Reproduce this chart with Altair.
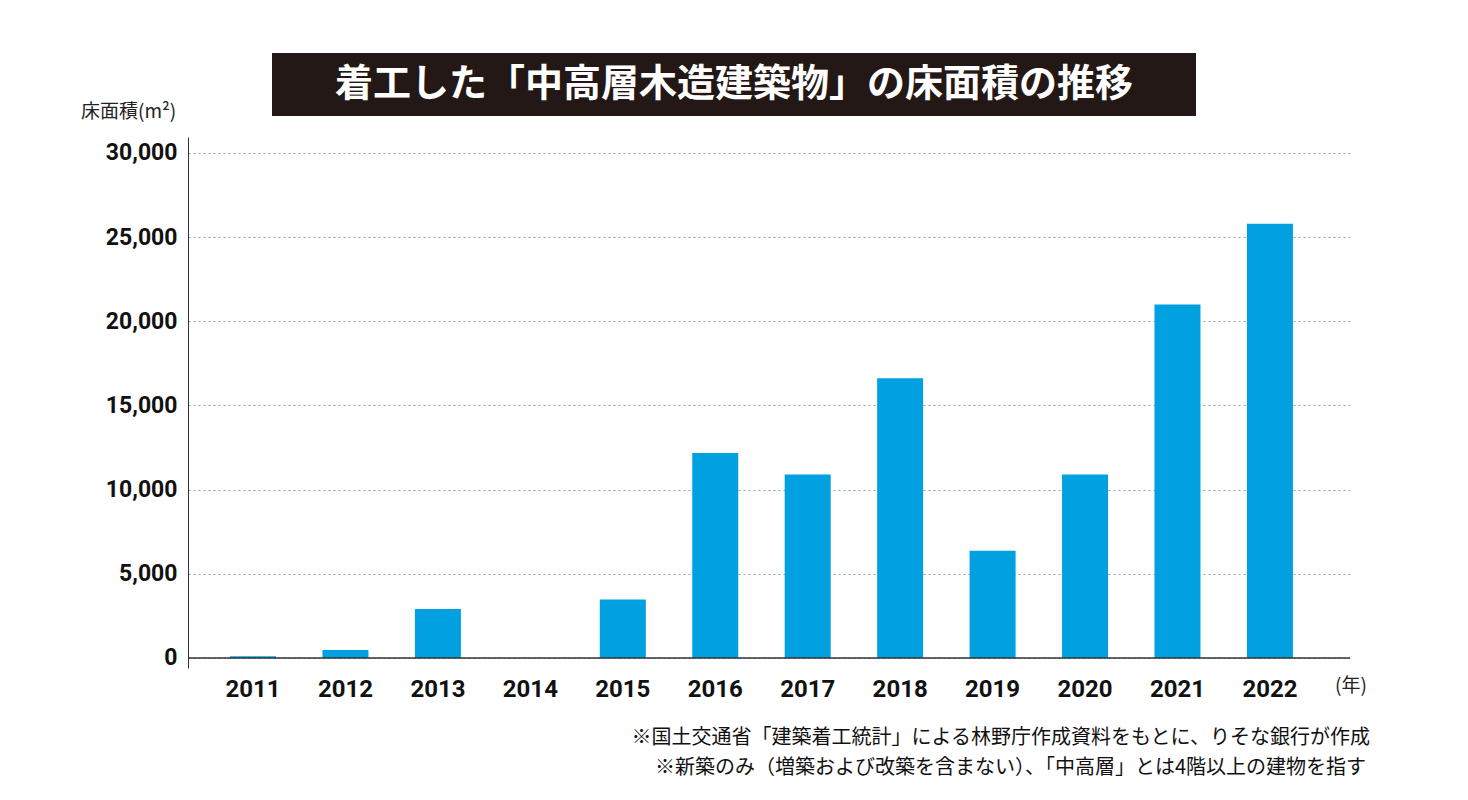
import altair as alt
import pandas as pd

years = ["2011", "2012", "2013", "2014", "2015", "2016", "2017", "2018", "2019", "2020", "2021", "2022"]
areas = [100, 470, 2900, 0, 3470, 12180, 10900, 16620, 6360, 10900, 21000, 25800]
y_ticks = [0, 5000, 10000, 15000, 20000, 25000, 30000]

TITLE = "着工した「中高層木造建築物」の床面積の推移"
Y_TITLE = "床面積(m²)"
X_UNIT = "(年)"
NOTE1 = "※国土交通省「建築着工統計」による林野庁作成資料をもとに、りそな銀行が作成"
NOTE2 = "※新築のみ（増築および改築を含まない）、「中高層」とは4階以上の建物を指す"

JP = "Noto Sans CJK JP"
NUM = "Roboto"
W, H = 1162, 531

df = pd.DataFrame({"year": years, "area": areas})

bars = alt.Chart(df).mark_bar(color="#00A0E1").encode(
    x=alt.X("year:O", title=None, sort=None,
            scale=alt.Scale(paddingInner=0.5025, paddingOuter=0.536, align=0.424),
            axis=alt.Axis(labelAngle=0, domain=False, ticks=False, labelPadding=9,
                          labelFont=NUM, labelFontWeight="bold", labelFontSize=24,
                          labelColor="#111111")),
    y=alt.Y("area:Q", title=None,
            scale=alt.Scale(domain=[-600, 30950], nice=False, zero=False),
            axis=alt.Axis(values=y_ticks, format=",d", ticks=False, labelPadding=11,
                          labelFont=NUM, labelFontWeight="bold", labelFontSize=23,
                          labelColor="#111111", domainColor="#333333", domainWidth=1,
                          grid=True, gridColor="#7fa6c4", gridDash=[2, 3], gridWidth=1)),
)

one = alt.Data(values=[{}])

baseline = alt.Chart(one).mark_rule(color="#333333", strokeWidth=1.5).encode(
    x=alt.value(0), x2=alt.value(W), y=alt.datum(0, type="quantitative")
)

title_box = alt.Chart(one).mark_rect(color="#231815").encode(
    x=alt.value(84), x2=alt.value(1008), y=alt.value(-84), y2=alt.value(-21)
)
title_text = alt.Chart(one).mark_text(
    text=TITLE, font=JP, fontWeight="bold", fontSize=38, color="white",
    align="center", baseline="middle"
).encode(x=alt.value(546), y=alt.value(-52))

y_title = alt.Chart(one).mark_text(
    text=Y_TITLE, font=JP, fontSize=19, color="#222222", align="left", baseline="middle"
).encode(x=alt.value(-107), y=alt.value(-25))

x_unit = alt.Chart(one).mark_text(
    text=X_UNIT, font=JP, fontSize=19, color="#222222", align="center", baseline="middle"
).encode(x=alt.value(1163), y=alt.value(549))

note1 = alt.Chart(one).mark_text(
    text=NOTE1, font=JP, fontSize=20, color="#111111", align="right", baseline="middle"
).encode(x=alt.value(1182), y=alt.value(601))
note2 = alt.Chart(one).mark_text(
    text=NOTE2, font=JP, fontSize=20, color="#111111", align="right", baseline="middle"
).encode(x=alt.value(1178), y=alt.value(631))

chart = alt.layer(
    bars, baseline, title_box, title_text, y_title, x_unit, note1, note2
).properties(
    width=W, height=H,
    autosize=alt.AutoSizeParams(type="none"),
    padding={"left": 180, "top": 129, "right": 110, "bottom": 120},
    background="white",
).configure_view(stroke=None)

chart.save("out.html", embed_options={"renderer": "svg", "actions": False})
